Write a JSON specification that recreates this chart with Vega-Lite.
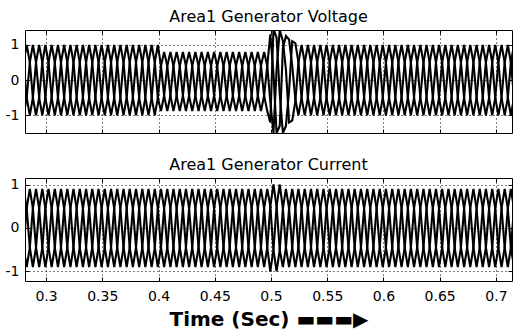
{
"$schema": "https://vega.github.io/schema/vega-lite/v6.json",
"padding": {"left": 4, "top": 8, "right": 6, "bottom": 0},
"spacing": 22,
"data": {"values": [
{"t":0.28,"va":0.5,"vb":-1,"vc":0.5,"ia":0.9,"ib":-0.45,"ic":-0.45},
{"t":0.2828,"va":1,"vb":-0.5,"vc":-0.5,"ia":0.45,"ib":0.45,"ic":-0.9},
{"t":0.2856,"va":0.5,"vb":0.5,"vc":-1,"ia":-0.45,"ib":0.9,"ic":-0.45},
{"t":0.2883,"va":-0.5,"vb":1,"vc":-0.5,"ia":-0.9,"ib":0.45,"ic":0.45},
{"t":0.2911,"va":-1,"vb":0.5,"vc":0.5,"ia":-0.45,"ib":-0.45,"ic":0.9},
{"t":0.2939,"va":-0.5,"vb":-0.5,"vc":1,"ia":0.45,"ib":-0.9,"ic":0.45},
{"t":0.2967,"va":0.5,"vb":-1,"vc":0.5,"ia":0.9,"ib":-0.45,"ic":-0.45},
{"t":0.2994,"va":1,"vb":-0.5,"vc":-0.5,"ia":0.45,"ib":0.45,"ic":-0.9},
{"t":0.3022,"va":0.5,"vb":0.5,"vc":-1,"ia":-0.45,"ib":0.9,"ic":-0.45},
{"t":0.305,"va":-0.5,"vb":1,"vc":-0.5,"ia":-0.9,"ib":0.45,"ic":0.45},
{"t":0.3078,"va":-1,"vb":0.5,"vc":0.5,"ia":-0.45,"ib":-0.45,"ic":0.9},
{"t":0.3106,"va":-0.5,"vb":-0.5,"vc":1,"ia":0.45,"ib":-0.9,"ic":0.45},
{"t":0.3133,"va":0.5,"vb":-1,"vc":0.5,"ia":0.9,"ib":-0.45,"ic":-0.45},
{"t":0.3161,"va":1,"vb":-0.5,"vc":-0.5,"ia":0.45,"ib":0.45,"ic":-0.9},
{"t":0.3189,"va":0.5,"vb":0.5,"vc":-1,"ia":-0.45,"ib":0.9,"ic":-0.45},
{"t":0.3217,"va":-0.5,"vb":1,"vc":-0.5,"ia":-0.9,"ib":0.45,"ic":0.45},
{"t":0.3244,"va":-1,"vb":0.5,"vc":0.5,"ia":-0.45,"ib":-0.45,"ic":0.9},
{"t":0.3272,"va":-0.5,"vb":-0.5,"vc":1,"ia":0.45,"ib":-0.9,"ic":0.45},
{"t":0.33,"va":0.5,"vb":-1,"vc":0.5,"ia":0.9,"ib":-0.45,"ic":-0.45},
{"t":0.3328,"va":1,"vb":-0.5,"vc":-0.5,"ia":0.45,"ib":0.45,"ic":-0.9},
{"t":0.3356,"va":0.5,"vb":0.5,"vc":-1,"ia":-0.45,"ib":0.9,"ic":-0.45},
{"t":0.3383,"va":-0.5,"vb":1,"vc":-0.5,"ia":-0.9,"ib":0.45,"ic":0.45},
{"t":0.3411,"va":-1,"vb":0.5,"vc":0.5,"ia":-0.45,"ib":-0.45,"ic":0.9},
{"t":0.3439,"va":-0.5,"vb":-0.5,"vc":1,"ia":0.45,"ib":-0.9,"ic":0.45},
{"t":0.3467,"va":0.5,"vb":-1,"vc":0.5,"ia":0.9,"ib":-0.45,"ic":-0.45},
{"t":0.3494,"va":1,"vb":-0.5,"vc":-0.5,"ia":0.45,"ib":0.45,"ic":-0.9},
{"t":0.3522,"va":0.5,"vb":0.5,"vc":-1,"ia":-0.45,"ib":0.9,"ic":-0.45},
{"t":0.355,"va":-0.5,"vb":1,"vc":-0.5,"ia":-0.9,"ib":0.45,"ic":0.45},
{"t":0.3578,"va":-1,"vb":0.5,"vc":0.5,"ia":-0.45,"ib":-0.45,"ic":0.9},
{"t":0.3606,"va":-0.5,"vb":-0.5,"vc":1,"ia":0.45,"ib":-0.9,"ic":0.45},
{"t":0.3633,"va":0.5,"vb":-1,"vc":0.5,"ia":0.9,"ib":-0.45,"ic":-0.45},
{"t":0.3661,"va":1,"vb":-0.5,"vc":-0.5,"ia":0.45,"ib":0.45,"ic":-0.9},
{"t":0.3689,"va":0.5,"vb":0.5,"vc":-1,"ia":-0.45,"ib":0.9,"ic":-0.45},
{"t":0.3717,"va":-0.5,"vb":1,"vc":-0.5,"ia":-0.9,"ib":0.45,"ic":0.45},
{"t":0.3744,"va":-1,"vb":0.5,"vc":0.5,"ia":-0.45,"ib":-0.45,"ic":0.9},
{"t":0.3772,"va":-0.5,"vb":-0.5,"vc":1,"ia":0.45,"ib":-0.9,"ic":0.45},
{"t":0.38,"va":0.5,"vb":-1,"vc":0.5,"ia":0.9,"ib":-0.45,"ic":-0.45},
{"t":0.3828,"va":1,"vb":-0.5,"vc":-0.5,"ia":0.45,"ib":0.45,"ic":-0.9},
{"t":0.3856,"va":0.5,"vb":0.5,"vc":-1,"ia":-0.45,"ib":0.9,"ic":-0.45},
{"t":0.3883,"va":-0.5,"vb":1,"vc":-0.5,"ia":-0.9,"ib":0.45,"ic":0.45},
{"t":0.3911,"va":-1,"vb":0.5,"vc":0.5,"ia":-0.45,"ib":-0.45,"ic":0.9},
{"t":0.3939,"va":-0.5,"vb":-0.5,"vc":1,"ia":0.45,"ib":-0.9,"ic":0.45},
{"t":0.3967,"va":0.5,"vb":-1,"vc":0.5,"ia":0.9,"ib":-0.45,"ic":-0.45},
{"t":0.3994,"va":1,"vb":-0.5,"vc":-0.5,"ia":0.45,"ib":0.45,"ic":-0.9},
{"t":0.4022,"va":0.4,"vb":0.4,"vc":-0.88,"ia":-0.45,"ib":0.9,"ic":-0.45},
{"t":0.405,"va":-0.44,"vb":0.8,"vc":-0.44,"ia":-0.9,"ib":0.45,"ic":0.45},
{"t":0.4078,"va":-0.88,"vb":0.4,"vc":0.4,"ia":-0.45,"ib":-0.45,"ic":0.9},
{"t":0.4106,"va":-0.44,"vb":-0.44,"vc":0.8,"ia":0.45,"ib":-0.9,"ic":0.45},
{"t":0.4133,"va":0.4,"vb":-0.88,"vc":0.4,"ia":0.9,"ib":-0.45,"ic":-0.45},
{"t":0.4161,"va":0.8,"vb":-0.44,"vc":-0.44,"ia":0.45,"ib":0.45,"ic":-0.9},
{"t":0.4189,"va":0.4,"vb":0.4,"vc":-0.88,"ia":-0.45,"ib":0.9,"ic":-0.45},
{"t":0.4217,"va":-0.44,"vb":0.8,"vc":-0.44,"ia":-0.9,"ib":0.45,"ic":0.45},
{"t":0.4244,"va":-0.88,"vb":0.4,"vc":0.4,"ia":-0.45,"ib":-0.45,"ic":0.9},
{"t":0.4272,"va":-0.44,"vb":-0.44,"vc":0.8,"ia":0.45,"ib":-0.9,"ic":0.45},
{"t":0.43,"va":0.4,"vb":-0.88,"vc":0.4,"ia":0.9,"ib":-0.45,"ic":-0.45},
{"t":0.4328,"va":0.8,"vb":-0.44,"vc":-0.44,"ia":0.45,"ib":0.45,"ic":-0.9},
{"t":0.4356,"va":0.4,"vb":0.4,"vc":-0.88,"ia":-0.45,"ib":0.9,"ic":-0.45},
{"t":0.4383,"va":-0.44,"vb":0.8,"vc":-0.44,"ia":-0.9,"ib":0.45,"ic":0.45},
{"t":0.4411,"va":-0.88,"vb":0.4,"vc":0.4,"ia":-0.45,"ib":-0.45,"ic":0.9},
{"t":0.4439,"va":-0.44,"vb":-0.44,"vc":0.8,"ia":0.45,"ib":-0.9,"ic":0.45},
{"t":0.4467,"va":0.4,"vb":-0.88,"vc":0.4,"ia":0.9,"ib":-0.45,"ic":-0.45},
{"t":0.4494,"va":0.8,"vb":-0.44,"vc":-0.44,"ia":0.45,"ib":0.45,"ic":-0.9},
{"t":0.4522,"va":0.4,"vb":0.4,"vc":-0.88,"ia":-0.45,"ib":0.9,"ic":-0.45},
{"t":0.455,"va":-0.44,"vb":0.8,"vc":-0.44,"ia":-0.9,"ib":0.45,"ic":0.45},
{"t":0.4578,"va":-0.88,"vb":0.4,"vc":0.4,"ia":-0.45,"ib":-0.45,"ic":0.9},
{"t":0.4606,"va":-0.44,"vb":-0.44,"vc":0.8,"ia":0.45,"ib":-0.9,"ic":0.45},
{"t":0.4633,"va":0.4,"vb":-0.88,"vc":0.4,"ia":0.9,"ib":-0.45,"ic":-0.45},
{"t":0.4661,"va":0.8,"vb":-0.44,"vc":-0.44,"ia":0.45,"ib":0.45,"ic":-0.9},
{"t":0.4689,"va":0.4,"vb":0.4,"vc":-0.88,"ia":-0.45,"ib":0.9,"ic":-0.45},
{"t":0.4717,"va":-0.44,"vb":0.8,"vc":-0.44,"ia":-0.9,"ib":0.45,"ic":0.45},
{"t":0.4744,"va":-0.88,"vb":0.4,"vc":0.4,"ia":-0.45,"ib":-0.45,"ic":0.9},
{"t":0.4772,"va":-0.44,"vb":-0.44,"vc":0.8,"ia":0.45,"ib":-0.9,"ic":0.45},
{"t":0.48,"va":0.4,"vb":-0.88,"vc":0.4,"ia":0.9,"ib":-0.45,"ic":-0.45},
{"t":0.4828,"va":0.8,"vb":-0.44,"vc":-0.44,"ia":0.45,"ib":0.45,"ic":-0.9},
{"t":0.4856,"va":0.4,"vb":0.4,"vc":-0.88,"ia":-0.45,"ib":0.9,"ic":-0.45},
{"t":0.4883,"va":-0.44,"vb":0.8,"vc":-0.44,"ia":-0.9,"ib":0.45,"ic":0.45},
{"t":0.4911,"va":-0.88,"vb":0.4,"vc":0.4,"ia":-0.45,"ib":-0.45,"ic":0.9},
{"t":0.4939,"va":-0.44,"vb":-0.44,"vc":0.8,"ia":0.45,"ib":-0.9,"ic":0.45},
{"t":0.4967,"va":0.4,"vb":-0.88,"vc":0.4,"ia":0.9,"ib":-0.45,"ic":-0.45},
{"t":0.4994,"va":1.3,"vb":-1.2,"vc":-0.6,"ia":0.5,"ib":0.5,"ic":-1},
{"t":0.5022,"va":0.2,"vb":1.45,"vc":-1.5,"ia":-0.5,"ib":1,"ic":-0.5},
{"t":0.505,"va":-1.5,"vb":1.2,"vc":0.3,"ia":-1,"ib":0.5,"ic":0.5},
{"t":0.5078,"va":-1.3,"vb":-0.4,"vc":1.42,"ia":-0.5,"ib":-0.5,"ic":1},
{"t":0.5106,"va":0.9,"vb":-1.5,"vc":1.1,"ia":0.45,"ib":-0.9,"ic":0.45},
{"t":0.5133,"va":1.25,"vb":-1.3,"vc":0.3,"ia":0.9,"ib":-0.45,"ic":-0.45},
{"t":0.5161,"va":1.15,"vb":-0.3,"vc":-1.2,"ia":0.45,"ib":0.45,"ic":-0.9},
{"t":0.5189,"va":0.4,"vb":1.1,"vc":-1.15,"ia":-0.45,"ib":0.9,"ic":-0.45},
{"t":0.5217,"va":-0.55,"vb":1.05,"vc":-0.6,"ia":-0.9,"ib":0.45,"ic":0.45},
{"t":0.5244,"va":-1,"vb":0.5,"vc":0.5,"ia":-0.45,"ib":-0.45,"ic":0.9},
{"t":0.5272,"va":-0.5,"vb":-0.5,"vc":1,"ia":0.45,"ib":-0.9,"ic":0.45},
{"t":0.53,"va":0.5,"vb":-1,"vc":0.5,"ia":0.9,"ib":-0.45,"ic":-0.45},
{"t":0.5328,"va":1,"vb":-0.5,"vc":-0.5,"ia":0.45,"ib":0.45,"ic":-0.9},
{"t":0.5356,"va":0.5,"vb":0.5,"vc":-1,"ia":-0.45,"ib":0.9,"ic":-0.45},
{"t":0.5383,"va":-0.5,"vb":1,"vc":-0.5,"ia":-0.9,"ib":0.45,"ic":0.45},
{"t":0.5411,"va":-1,"vb":0.5,"vc":0.5,"ia":-0.45,"ib":-0.45,"ic":0.9},
{"t":0.5439,"va":-0.5,"vb":-0.5,"vc":1,"ia":0.45,"ib":-0.9,"ic":0.45},
{"t":0.5467,"va":0.5,"vb":-1,"vc":0.5,"ia":0.9,"ib":-0.45,"ic":-0.45},
{"t":0.5494,"va":1,"vb":-0.5,"vc":-0.5,"ia":0.45,"ib":0.45,"ic":-0.9},
{"t":0.5522,"va":0.5,"vb":0.5,"vc":-1,"ia":-0.45,"ib":0.9,"ic":-0.45},
{"t":0.555,"va":-0.5,"vb":1,"vc":-0.5,"ia":-0.9,"ib":0.45,"ic":0.45},
{"t":0.5578,"va":-1,"vb":0.5,"vc":0.5,"ia":-0.45,"ib":-0.45,"ic":0.9},
{"t":0.5606,"va":-0.5,"vb":-0.5,"vc":1,"ia":0.45,"ib":-0.9,"ic":0.45},
{"t":0.5633,"va":0.5,"vb":-1,"vc":0.5,"ia":0.9,"ib":-0.45,"ic":-0.45},
{"t":0.5661,"va":1,"vb":-0.5,"vc":-0.5,"ia":0.45,"ib":0.45,"ic":-0.9},
{"t":0.5689,"va":0.5,"vb":0.5,"vc":-1,"ia":-0.45,"ib":0.9,"ic":-0.45},
{"t":0.5717,"va":-0.5,"vb":1,"vc":-0.5,"ia":-0.9,"ib":0.45,"ic":0.45},
{"t":0.5744,"va":-1,"vb":0.5,"vc":0.5,"ia":-0.45,"ib":-0.45,"ic":0.9},
{"t":0.5772,"va":-0.5,"vb":-0.5,"vc":1,"ia":0.45,"ib":-0.9,"ic":0.45},
{"t":0.58,"va":0.5,"vb":-1,"vc":0.5,"ia":0.9,"ib":-0.45,"ic":-0.45},
{"t":0.5828,"va":1,"vb":-0.5,"vc":-0.5,"ia":0.45,"ib":0.45,"ic":-0.9},
{"t":0.5856,"va":0.5,"vb":0.5,"vc":-1,"ia":-0.45,"ib":0.9,"ic":-0.45},
{"t":0.5883,"va":-0.5,"vb":1,"vc":-0.5,"ia":-0.9,"ib":0.45,"ic":0.45},
{"t":0.5911,"va":-1,"vb":0.5,"vc":0.5,"ia":-0.45,"ib":-0.45,"ic":0.9},
{"t":0.5939,"va":-0.5,"vb":-0.5,"vc":1,"ia":0.45,"ib":-0.9,"ic":0.45},
{"t":0.5967,"va":0.5,"vb":-1,"vc":0.5,"ia":0.9,"ib":-0.45,"ic":-0.45},
{"t":0.5994,"va":1,"vb":-0.5,"vc":-0.5,"ia":0.45,"ib":0.45,"ic":-0.9},
{"t":0.6022,"va":0.5,"vb":0.5,"vc":-1,"ia":-0.45,"ib":0.9,"ic":-0.45},
{"t":0.605,"va":-0.5,"vb":1,"vc":-0.5,"ia":-0.9,"ib":0.45,"ic":0.45},
{"t":0.6078,"va":-1,"vb":0.5,"vc":0.5,"ia":-0.45,"ib":-0.45,"ic":0.9},
{"t":0.6106,"va":-0.5,"vb":-0.5,"vc":1,"ia":0.45,"ib":-0.9,"ic":0.45},
{"t":0.6133,"va":0.5,"vb":-1,"vc":0.5,"ia":0.9,"ib":-0.45,"ic":-0.45},
{"t":0.6161,"va":1,"vb":-0.5,"vc":-0.5,"ia":0.45,"ib":0.45,"ic":-0.9},
{"t":0.6189,"va":0.5,"vb":0.5,"vc":-1,"ia":-0.45,"ib":0.9,"ic":-0.45},
{"t":0.6217,"va":-0.5,"vb":1,"vc":-0.5,"ia":-0.9,"ib":0.45,"ic":0.45},
{"t":0.6244,"va":-1,"vb":0.5,"vc":0.5,"ia":-0.45,"ib":-0.45,"ic":0.9},
{"t":0.6272,"va":-0.5,"vb":-0.5,"vc":1,"ia":0.45,"ib":-0.9,"ic":0.45},
{"t":0.63,"va":0.5,"vb":-1,"vc":0.5,"ia":0.9,"ib":-0.45,"ic":-0.45},
{"t":0.6328,"va":1,"vb":-0.5,"vc":-0.5,"ia":0.45,"ib":0.45,"ic":-0.9},
{"t":0.6356,"va":0.5,"vb":0.5,"vc":-1,"ia":-0.45,"ib":0.9,"ic":-0.45},
{"t":0.6383,"va":-0.5,"vb":1,"vc":-0.5,"ia":-0.9,"ib":0.45,"ic":0.45},
{"t":0.6411,"va":-1,"vb":0.5,"vc":0.5,"ia":-0.45,"ib":-0.45,"ic":0.9},
{"t":0.6439,"va":-0.5,"vb":-0.5,"vc":1,"ia":0.45,"ib":-0.9,"ic":0.45},
{"t":0.6467,"va":0.5,"vb":-1,"vc":0.5,"ia":0.9,"ib":-0.45,"ic":-0.45},
{"t":0.6494,"va":1,"vb":-0.5,"vc":-0.5,"ia":0.45,"ib":0.45,"ic":-0.9},
{"t":0.6522,"va":0.5,"vb":0.5,"vc":-1,"ia":-0.45,"ib":0.9,"ic":-0.45},
{"t":0.655,"va":-0.5,"vb":1,"vc":-0.5,"ia":-0.9,"ib":0.45,"ic":0.45},
{"t":0.6578,"va":-1,"vb":0.5,"vc":0.5,"ia":-0.45,"ib":-0.45,"ic":0.9},
{"t":0.6606,"va":-0.5,"vb":-0.5,"vc":1,"ia":0.45,"ib":-0.9,"ic":0.45},
{"t":0.6633,"va":0.5,"vb":-1,"vc":0.5,"ia":0.9,"ib":-0.45,"ic":-0.45},
{"t":0.6661,"va":1,"vb":-0.5,"vc":-0.5,"ia":0.45,"ib":0.45,"ic":-0.9},
{"t":0.6689,"va":0.5,"vb":0.5,"vc":-1,"ia":-0.45,"ib":0.9,"ic":-0.45},
{"t":0.6717,"va":-0.5,"vb":1,"vc":-0.5,"ia":-0.9,"ib":0.45,"ic":0.45},
{"t":0.6744,"va":-1,"vb":0.5,"vc":0.5,"ia":-0.45,"ib":-0.45,"ic":0.9},
{"t":0.6772,"va":-0.5,"vb":-0.5,"vc":1,"ia":0.45,"ib":-0.9,"ic":0.45},
{"t":0.68,"va":0.5,"vb":-1,"vc":0.5,"ia":0.9,"ib":-0.45,"ic":-0.45},
{"t":0.6828,"va":1,"vb":-0.5,"vc":-0.5,"ia":0.45,"ib":0.45,"ic":-0.9},
{"t":0.6856,"va":0.5,"vb":0.5,"vc":-1,"ia":-0.45,"ib":0.9,"ic":-0.45},
{"t":0.6883,"va":-0.5,"vb":1,"vc":-0.5,"ia":-0.9,"ib":0.45,"ic":0.45},
{"t":0.6911,"va":-1,"vb":0.5,"vc":0.5,"ia":-0.45,"ib":-0.45,"ic":0.9},
{"t":0.6939,"va":-0.5,"vb":-0.5,"vc":1,"ia":0.45,"ib":-0.9,"ic":0.45},
{"t":0.6967,"va":0.5,"vb":-1,"vc":0.5,"ia":0.9,"ib":-0.45,"ic":-0.45},
{"t":0.6994,"va":1,"vb":-0.5,"vc":-0.5,"ia":0.45,"ib":0.45,"ic":-0.9},
{"t":0.7022,"va":0.5,"vb":0.5,"vc":-1,"ia":-0.45,"ib":0.9,"ic":-0.45},
{"t":0.705,"va":-0.5,"vb":1,"vc":-0.5,"ia":-0.9,"ib":0.45,"ic":0.45},
{"t":0.7078,"va":-1,"vb":0.5,"vc":0.5,"ia":-0.45,"ib":-0.45,"ic":0.9},
{"t":0.7106,"va":-0.5,"vb":-0.5,"vc":1,"ia":0.45,"ib":-0.9,"ic":0.45},
{"t":0.7133,"va":0.5,"vb":-1,"vc":0.5,"ia":0.9,"ib":-0.45,"ic":-0.45},
{"t":0.7161,"va":1,"vb":-0.5,"vc":-0.5,"ia":0.45,"ib":0.45,"ic":-0.9}
]},
"config": {
  "font": "DejaVu Sans",
  "background": "white",
  "view": {"stroke": "black", "strokeWidth": 1},
  "axis": {"domain": false, "tickColor": "black", "tickSize": -4, "tickWidth": 1, "labelColor": "black", "labelFont": "DejaVu Sans", "labelFontSize": 14, "gridColor": "black", "gridDash": [1, 3], "gridOpacity": 1, "gridWidth": 1, "titleColor": "black"},
  "title": {"font": "DejaVu Sans", "fontSize": 16, "fontWeight": "normal", "color": "black", "offset": 5, "anchor": "middle", "frame": "group"}
},
"vconcat": [
  {
    "width": 487, "height": 103,
    "title": "Area1 Generator Voltage",
    "transform": [{"fold": ["va", "vb", "vc"], "as": ["phase", "value"]}],
    "layer": [
      {
        "mark": {"type": "line", "color": "black", "strokeWidth": 2.1, "clip": true},
        "encoding": {
          "x": {"field": "t", "type": "quantitative", "scale": {"domain": [0.2813, 0.7143], "nice": false, "zero": false}, "axis": {"orient": "bottom", "values": [0.3, 0.35, 0.4, 0.45, 0.5, 0.55, 0.6, 0.65, 0.7], "labels": false, "title": null, "grid": true}},
          "y": {"field": "value", "type": "quantitative", "scale": {"domain": [-1.5, 1.42], "nice": false}, "axis": {"orient": "left", "values": [-1, 0, 1], "labelExpr": "datum.value == -1 ? '-1' : datum.label", "title": null, "grid": true, "labelPadding": 10}},
          "detail": {"field": "phase"}
        }
      },
      {
        "mark": {"type": "line", "opacity": 0, "clip": true},
        "encoding": {
          "x": {"field": "t", "type": "quantitative", "axis": {"orient": "top", "values": [0.3, 0.35, 0.4, 0.45, 0.5, 0.55, 0.6, 0.65, 0.7], "labels": false, "title": null, "grid": false}},
          "y": {"field": "value", "type": "quantitative", "axis": {"orient": "right", "values": [-1, 0, 1], "labels": false, "title": null, "grid": false}},
          "detail": {"field": "phase"}
        }
      }
    ],
    "resolve": {"axis": {"x": "independent", "y": "independent"}}
  },
  {
    "width": 487, "height": 103,
    "title": "Area1 Generator Current",
    "transform": [{"fold": ["ia", "ib", "ic"], "as": ["phase", "value"]}],
    "layer": [
      {
        "mark": {"type": "line", "color": "black", "strokeWidth": 2.1, "clip": true},
        "encoding": {
          "x": {"field": "t", "type": "quantitative", "scale": {"domain": [0.2813, 0.7143], "nice": false, "zero": false}, "axis": {"orient": "bottom", "values": [0.3, 0.35, 0.4, 0.45, 0.5, 0.55, 0.6, 0.65, 0.7], "format": "~g", "labels": true, "labelPadding": 12, "title": "Time (Sec)  ▬▬▬▶", "titleFont": "DejaVu Sans", "titleFontSize": 20, "titleFontWeight": "bold", "titlePadding": 6, "grid": true}},
          "y": {"field": "value", "type": "quantitative", "scale": {"domain": [-1.22, 1.15], "nice": false}, "axis": {"orient": "left", "values": [-1, 0, 1], "labelExpr": "datum.value == -1 ? '-1' : datum.label", "title": null, "grid": true, "labelPadding": 10}},
          "detail": {"field": "phase"}
        }
      },
      {
        "mark": {"type": "line", "opacity": 0, "clip": true},
        "encoding": {
          "x": {"field": "t", "type": "quantitative", "axis": {"orient": "top", "values": [0.3, 0.35, 0.4, 0.45, 0.5, 0.55, 0.6, 0.65, 0.7], "labels": false, "title": null, "grid": false}},
          "y": {"field": "value", "type": "quantitative", "axis": {"orient": "right", "values": [-1, 0, 1], "labels": false, "title": null, "grid": false}},
          "detail": {"field": "phase"}
        }
      }
    ],
    "resolve": {"axis": {"x": "independent", "y": "independent"}}
  }
]
}
